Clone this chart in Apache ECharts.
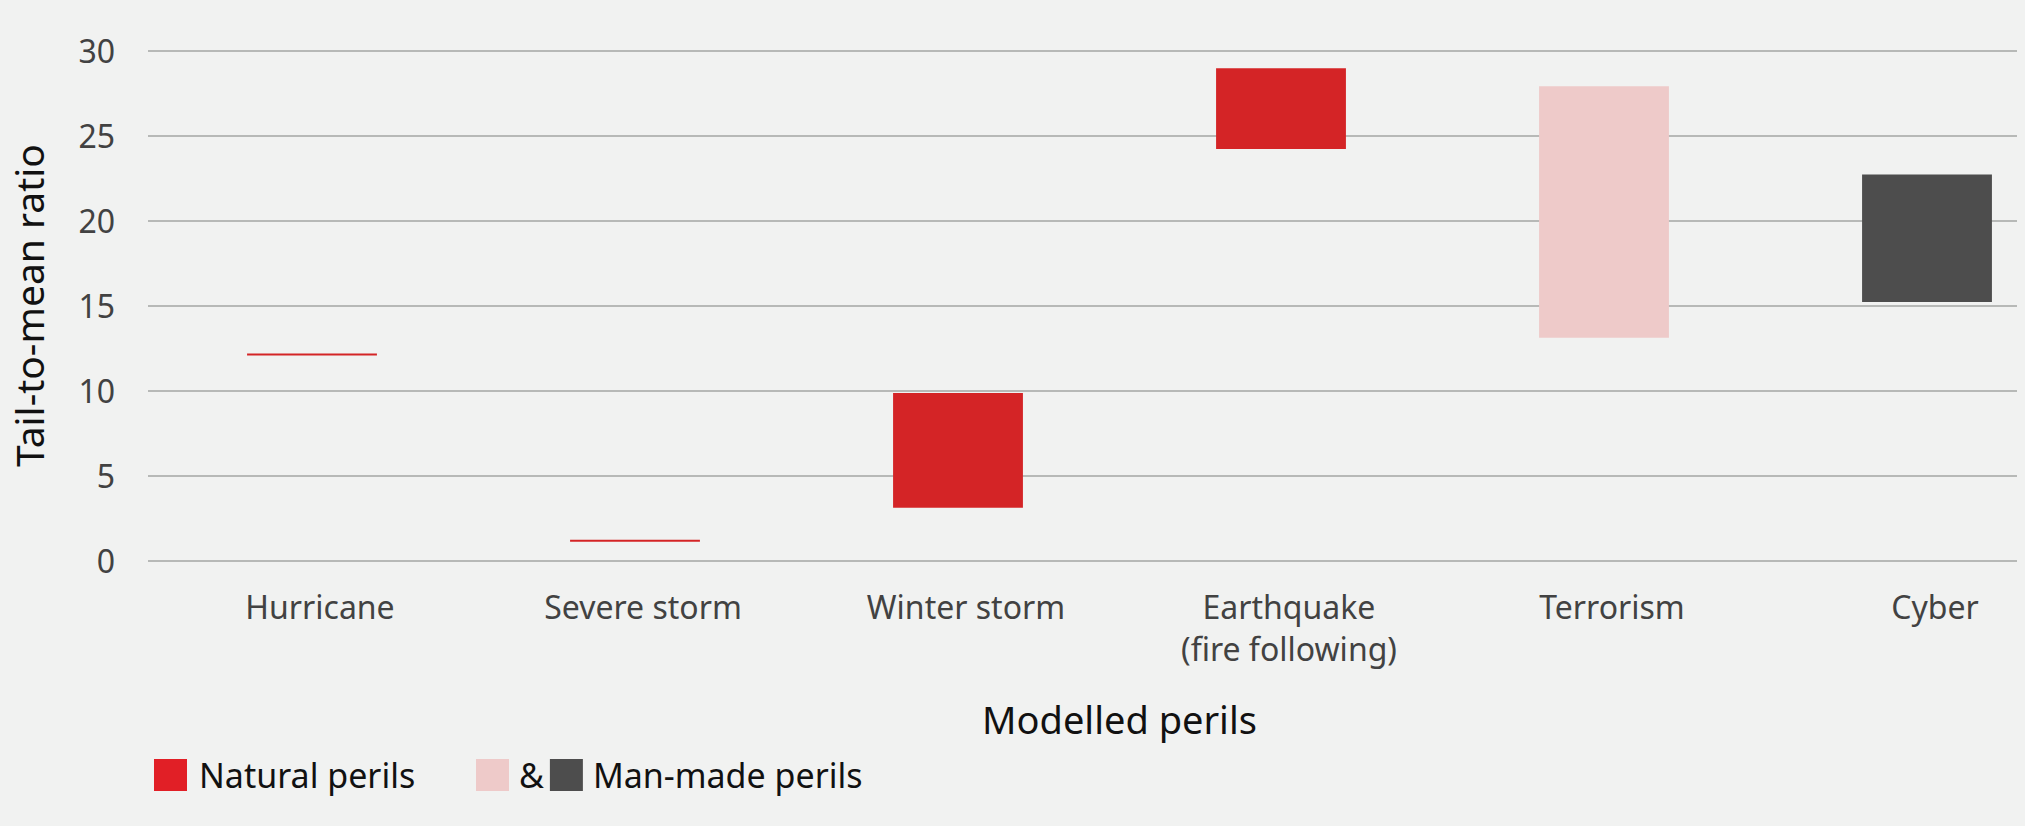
<!DOCTYPE html>
<html>
<head>
<meta charset="utf-8">
<script src="https://cdn.jsdelivr.net/npm/echarts@6/dist/echarts.min.js"></script>
<style>
  html, body { margin: 0; padding: 0; background: #f1f2f1; overflow: hidden; }
  /* the category axis of the original runs past the right edge of the picture */
  #chart { width: 2100px; height: 826px; }
</style>
</head>
<body>
<div id="chart"></div>
<script>
// --- data ---
var categories = ['Hurricane', 'Severe storm', 'Winter storm', 'Earthquake\n(fire following)', 'Terrorism', 'Cyber'];
var lowValues  = [12.06, 1.10, 3.10, 24.20, 13.10, 15.20];
var highValues = [12.18, 1.22, 9.85, 28.95, 27.90, 22.70];
var perilGroup = ['natural', 'natural', 'natural', 'natural', 'terrorism', 'cyber'];
var yTicks = [0, 5, 10, 15, 20, 25, 30];

(function() {
  var red = '#d42426';
  var pink = '#eecac9';
  var dark = '#4d4d4d';
  var muted = '#424242';
  var rule = '#b7b9b7';
  var font = '"Noto Sans", "Open Sans", sans-serif';

  function rangeFor(group) {
    return highValues.map(function(h, i) {
      return perilGroup[i] === group ? +(h - lowValues[i]).toFixed(2) : '-';
    });
  }

  var chart = echarts.init(document.getElementById('chart'), null, { renderer: 'svg' });
  chart.setOption({
    animation: false,
    backgroundColor: '#f1f2f1',
    textStyle: { fontFamily: font },
    grid: [
      // gridlines and y axis (ends at x=2017)
      { left: 148, width: 1869, top: 50.5, bottom: 265.5 },
      // bars and category axis
      { left: 150.5, width: 1938, top: 50.5, bottom: 265.5 }
    ],
    legend: [
      {
        left: 149, top: 753,
        itemWidth: 33, itemHeight: 32,
        icon: 'rect',
        selectedMode: false,
        textStyle: { fontSize: 34, color: '#111', fontFamily: font, padding: [0, 0, 0, 7] },
        data: [{ name: 'Natural perils', itemStyle: { color: '#e11f26' } }]
      },
      {
        left: 471, top: 753,
        itemWidth: 33, itemHeight: 32, itemGap: 6,
        icon: 'rect',
        selectedMode: false,
        textStyle: { fontSize: 34, color: '#111', fontFamily: font, padding: [0, 0, 0, 5] },
        data: ['&', 'Man-made perils']
      }
    ],
    xAxis: [
      { gridIndex: 0, type: 'category', data: categories, show: false },
      {
        gridIndex: 1,
        type: 'category',
        data: categories,
        axisLine: { show: false },
        axisTick: { show: false },
        axisLabel: {
          color: muted, fontSize: 32, lineHeight: 42, margin: 25, interval: 0,
          padding: [0, 0, 0, 16], fontFamily: font
        },
        name: 'Modelled perils',
        nameLocation: 'middle',
        nameGap: 139,
        nameTextStyle: { color: '#111', fontSize: 38, fontFamily: font }
      }
    ],
    yAxis: [
      {
        gridIndex: 0,
        type: 'value',
        min: yTicks[0],
        max: yTicks[yTicks.length - 1],
        interval: yTicks[1] - yTicks[0],
        axisLine: { show: false },
        axisTick: { show: false },
        splitLine: { lineStyle: { color: rule, width: 2 } },
        axisLabel: { color: muted, fontSize: 32, margin: 33, fontFamily: font },
        name: 'Tail-to-mean ratio',
        nameLocation: 'middle',
        nameGap: 100,
        nameTextStyle: { color: '#111', fontSize: 39, fontFamily: font }
      },
      {
        gridIndex: 1,
        type: 'value',
        min: yTicks[0],
        max: yTicks[yTicks.length - 1],
        show: false,
        splitLine: { show: false }
      }
    ],
    series: [
      {
        name: 'base',
        type: 'bar',
        stack: 'range',
        xAxisIndex: 1, yAxisIndex: 1,
        barWidth: '40.2%',
        itemStyle: { color: 'transparent' },
        data: lowValues
      },
      {
        name: 'Natural perils',
        type: 'bar',
        stack: 'range',
        xAxisIndex: 1, yAxisIndex: 1,
        barWidth: '40.2%',
        itemStyle: { color: red },
        data: rangeFor('natural')
      },
      {
        name: '&',
        type: 'bar',
        stack: 'range',
        xAxisIndex: 1, yAxisIndex: 1,
        barWidth: '40.2%',
        itemStyle: { color: pink },
        data: rangeFor('terrorism')
      },
      {
        name: 'Man-made perils',
        type: 'bar',
        stack: 'range',
        xAxisIndex: 1, yAxisIndex: 1,
        barWidth: '40.2%',
        itemStyle: { color: dark },
        data: rangeFor('cyber')
      }
    ]
  });
  window.addEventListener('resize', function() { chart.resize(); });
})();
</script>
</body>
</html>
